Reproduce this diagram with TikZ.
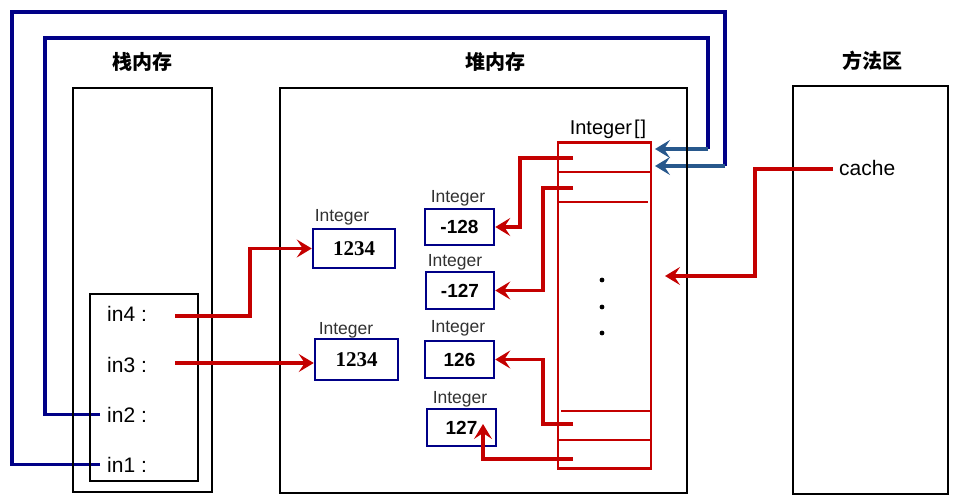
\documentclass[tikz,border=0pt]{standalone}
\usepackage{fontspec}
\setmainfont{Liberation Sans}
\newfontfamily\cjk{Noto Sans CJK SC}
\newfontfamily\numfont{Liberation Serif}
\usetikzlibrary{arrows.meta}
\definecolor{refred}{RGB}{196,0,0}
\definecolor{navy}{RGB}{0,0,135}
\definecolor{steel}{RGB}{40,88,140}
\definecolor{lblgray}{RGB}{50,50,50}
\tikzset{
  region/.style={draw=black, line width=2.5pt, inner sep=0pt},
  objbox/.style={draw=navy, line width=2.5pt, inner sep=0pt, font=\fontsize{19}{22}\selectfont\bfseries},
  bigbox/.style={draw=navy, line width=2.5pt, inner sep=0pt, font=\numfont\bfseries\fontsize{21}{24}\selectfont},
  typelbl/.style={anchor=base, inner sep=0pt, text=lblgray, font=\fontsize{17.5}{20}\selectfont},
  title/.style={font=\cjk\bfseries\fontsize{20}{24}\selectfont},
  varlbl/.style={anchor=base west, inner xsep=7pt, inner ysep=0pt, font=\fontsize{21}{24}\selectfont},
  ref/.style={draw=refred, line width=3.5pt, -{Stealth[length=15pt, width=18pt, inset=6pt]}},
  stackref/.style={draw=navy, line width=3.5pt},
  stacktip/.style={draw=steel, line width=3.5pt, -{Stealth[length=15pt, width=18pt, inset=6pt]}},
  cell/.style={draw=refred, line width=2.3pt},
}
\begin{document}
\begin{tikzpicture}[x=1pt, y=-1pt]
\useasboundingbox (0,0) rectangle (960,502);

% in1 and in2 point at the array elements
\coordinate (tip1) at (655,166);
\coordinate (tip2) at (655,149);
\node[varlbl] (in2) at (100,422) {in2 :};
\node[varlbl] (in1) at (100,472) {in1 :};
\draw[stackref] (in1.west) -| (12,12) -| (725,166);
\draw[stacktip] (725,166) -- (tip1);
\draw[stackref] (in2.west) -| (45,38) -| (708,149);
\draw[stacktip] (708,149) -- (tip2);

% memory regions
\node[title] (tStack) at (142,62) {栈内存};
\node[title] (tHeap) at (495,62) {堆内存};
\node[title] (tMethod) at (872,61) {方法区};

\node[region, minimum width=139, minimum height=404] (stack) at (142.5,290) {};
\node[region, minimum width=108, minimum height=187] (frame) at (144,387.5) {};
\node[region, minimum width=407, minimum height=405] (heap) at (483.5,290.5) {};
\node[region, minimum width=155, minimum height=408] (method) at (870.5,290) {};

% local variables
\node[varlbl] (in4) at (100,321) {in4 :};
\node[varlbl] (in3) at (100,372) {in3 :};
\coordinate (in4p) at (175,316);
\coordinate (in3p) at (175,363);

% Integer objects created with new
\node[typelbl] (lA) at (342,222) {Integer};
\node[bigbox, minimum width=82, minimum height=39] (boxA) at (354,248.5) {1234};
\node[typelbl] (lB) at (346,334) {Integer};
\node[bigbox, minimum width=83, minimum height=41] (boxB) at (356.5,359.5) {1234};

% cached Integer objects
\node[typelbl] (l1) at (458,203) {Integer};
\node[objbox, minimum width=69, minimum height=36] (m128) at (459.5,227) {-128};
\node[typelbl] (l2) at (455,267) {Integer};
\node[objbox, minimum width=68, minimum height=37] (m127) at (460,290.5) {-127};
\node[typelbl] (l3) at (458,332) {Integer};
\node[objbox, minimum width=69, minimum height=37] (p126) at (459.5,359.5) {126};
\node[typelbl] (l4) at (460,403) {Integer};
\node[objbox, minimum width=69, minimum height=37] (p127) at (461.5,427.5) {127};
\coordinate (t127) at (483,424);

% cache array
\node[anchor=base, inner sep=0pt, font=\fontsize{20}{24}\selectfont] (arrLbl) at (608,135) {Integer\kern2pt[\kern1pt]};
\node[draw=refred, line width=2.3pt, inner sep=0pt, minimum width=93, minimum height=326] (arr) at (604.5,305.5) {};
\draw[cell] (558,172) -- (650,172);
\draw[cell] (558,202) -- (648,202);
\draw[cell] (561,411) -- (650,411);
\draw[cell] (558,440) -- (650,440);
\foreach \y in {280,307,333} \fill (602,\y) circle (2.4);
\coordinate (s1) at (573,158);
\coordinate (s2) at (573,188);
\coordinate (s3) at (573,424);
\coordinate (s4) at (573,459);

% static field in the method area
\node[anchor=base west, inner sep=0pt, font=\fontsize{21}{24}\selectfont] (cache) at (839,176) {cache};
\coordinate (cacheP) at (833,169);
\coordinate (cacheT) at (665,276);

% in3 and in4 point at new objects
\draw[ref] (in4p) -- ++(75,0) |- (boxA.west);
\draw[ref] (in3p) -- (boxB.west |- in3p);

% array elements point at cached objects
\draw[ref] (s1) -- ++(-53,0) |- (m128.east);
\draw[ref] (s2) -- ++(-30,0) |- (m127.east);
\draw[ref] (s3) -- ++(-30,0) |- (p126.east);
\draw[ref] (s4) -| (t127);

% cache field points at the array
\draw[ref] (cacheP) -- ++(-78,0) |- (cacheT);
\end{tikzpicture}
\end{document}
